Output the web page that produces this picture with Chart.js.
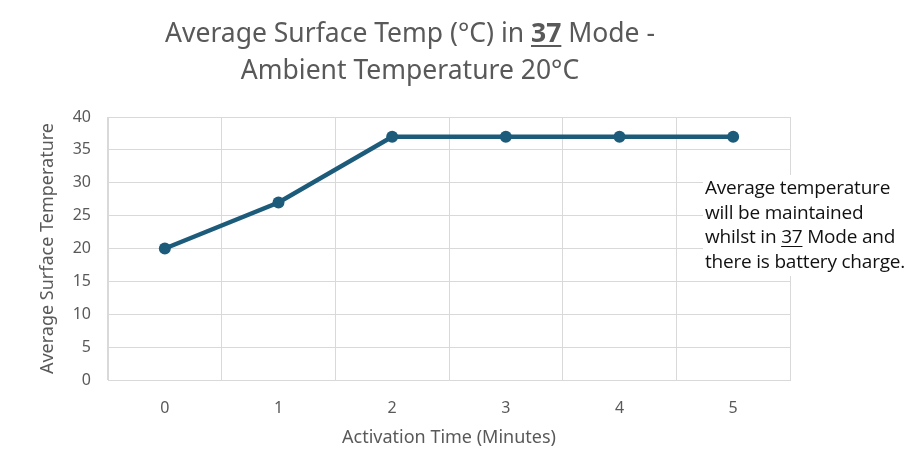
<!DOCTYPE html>
<html>
<head>
<meta charset="utf-8">
<script src="https://cdn.jsdelivr.net/npm/chart.js@4"></script>
<style>
  html, body { margin: 0; padding: 0; background: #fff; }
  #wrap { position: relative; width: 911px; height: 450px; }
  #title {
    position: absolute; left: 60px; width: 700px; top: 14px;
    text-align: center; color: #595959;
    font: 26.5px "Noto Sans", sans-serif; line-height: 37px;
  }
  #note {
    position: absolute; left: 703px; top: 175px; width: 208px;
    background: #fff; color: #111; padding: 0 0 3px 2px; white-space: nowrap;
    font: 19px "Open Sans", sans-serif; line-height: 24.5px; letter-spacing: -0.2px;
  }
  u { text-underline-offset: 3px; }
</style>
</head>
<body>
<div id="wrap">
  <canvas id="chartTemp" width="911" height="450"></canvas>
  <div id="title">Average Surface Temp (°C) in <b><u>37</u></b> Mode -<br>Ambient Temperature 20°C</div>
  <div id="note">Average temperature<br>will be maintained<br>whilst in <u>37</u> Mode and<br>there is battery charge.</div>
</div>
<script>
const minutes = ['0', '1', '2', '3', '4', '5']
const surfaceTemp = [20, 27, 37, 37, 37, 37]
const yTicks = [0, 5, 10, 15, 20, 25, 30, 35, 40]

const lineColor = '#1d5b7b'
const gridColor = '#d9d9d9'
const textColor = '#595959'

const data = {
    labels: minutes,
    datasets: [{
        data: surfaceTemp,
        borderColor: lineColor,
        backgroundColor: lineColor,
        borderWidth: 4.5,
        pointRadius: 6,
        pointBorderWidth: 0,
        tension: 0
    }]
}

const options = {
    responsive: false,
    animation: false,
    layout: { padding: { left: 0, right: 121, top: 117, bottom: 0 } },
    plugins: {
        legend: { display: false },
        tooltip: { enabled: false }
    },
    scales: {
        x: {
            offset: true,
            afterFit: scale => { scale.height = 70 },
            grid: { color: gridColor, drawTicks: false, offset: true },
            border: { color: gridColor },
            ticks: { color: textColor, padding: 19, font: { family: 'Noto Sans', size: 16 } },
            title: {
                display: true, text: 'Activation Time (Minutes)', color: textColor,
                font: { family: 'Noto Sans', size: 18 }, padding: { top: 1, bottom: 1 }
            }
        },
        y: {
            min: 0, max: 40,
            afterBuildTicks: scale => { scale.ticks = yTicks.map(v => ({ value: v })) },
            afterFit: scale => { scale.width = 108 },
            grid: { color: gridColor, drawTicks: false },
            border: { color: gridColor },
            ticks: { color: textColor, padding: 17, font: { family: 'Noto Sans', size: 16 } },
            title: {
                display: true, text: 'Average Surface Temperature', color: textColor,
                font: { family: 'Noto Sans', size: 18 }, padding: { top: 37, bottom: 0 }
            }
        }
    }
}

new Chart('chartTemp', { type: 'line', data, options })
</script>
</body>
</html>
